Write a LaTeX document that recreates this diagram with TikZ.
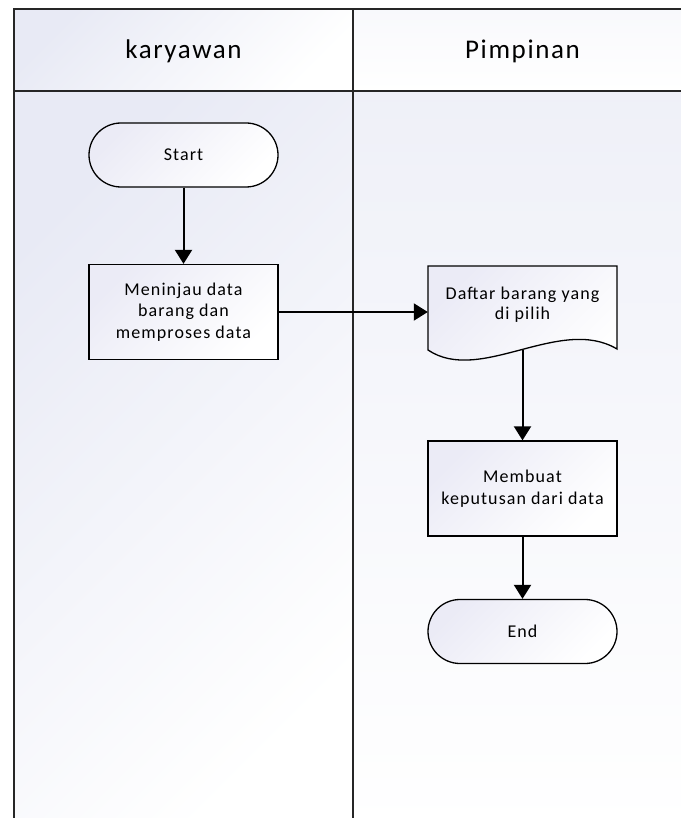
\documentclass[tikz,border=0pt]{standalone}
\usepackage{fontspec}
\setmainfont{Carlito}[LetterSpace=6]
\usepackage{xcolor}
\usetikzlibrary{positioning,arrows.meta}

\definecolor{lanetint}{HTML}{E8EAF5}
\definecolor{boxtint}{HTML}{EBEBF6}

\tikzset{
  lane/.style={top color=lanetint, bottom color=white, shading angle=45},
  lanelabel/.style={font=\fontsize{27}{30}\selectfont},
  proc/.style={draw, line width=1.3pt, minimum width=189pt, minimum height=95pt, align=center,
    font=\fontsize{18}{21.5}\selectfont, top color=boxtint, bottom color=white, shading angle=45},
  term/.style={proc, minimum height=64pt, rounded corners=32pt},
  doctext/.style={align=center, font=\fontsize{18}{20.5}\selectfont, minimum width=189pt,
    minimum height=84pt, text depth=10pt},
  flow/.style={line width=2pt, -{Triangle[length=14pt,width=17pt]}}
}

\begin{document}
\begin{tikzpicture}[x=1pt,y=-1pt]
  \useasboundingbox (0,0) rectangle (680,818);
  % lanes
  \shade[lane] (14,9) rectangle (353,91);
  \shade[lane] (14,91) rectangle (353,830);
  \shade[lane, top color=lanetint!30] (353,9) rectangle (691,91);
  \shade[lane, top color=lanetint!70] (353,91) rectangle (691,830);
  \draw[line width=1.8pt, draw=black!85] (14,9) rectangle (691,830);
  \draw[line width=1.8pt, draw=black!85] (353,9) -- (353,830);
  \draw[line width=1.8pt, draw=black!85] (14,91) -- (691,91);
  \node[lanelabel] (karyawan) at (183.5,51) {karyawan};
  \node[lanelabel] (pimpinan) at (522.5,51) {Pimpinan};

  \node[term] (start) at (183.5,155) {Start};
  \node[proc] (tinjau) at (183.5,312) {Meninjau data\\barang dan\\memproses data};
  \shadedraw[line width=1.3pt, top color=boxtint, bottom color=white, shading angle=45]
    (428,266) -- (617,266) -- (617,349) .. controls (560,315) and (480,385) .. (428,350) -- cycle;
  \node[doctext] (daftar) at (522.5,308) {Daftar barang yang\\di pilih};
  \node[proc] (putus) at (522.5,488.5) {Membuat\\keputusan dari data};
  \node[term] (end) at (522.5,631.5) {End};

  \draw[flow] (start) -- (tinjau);
  \draw[flow] (tinjau.east) -- (tinjau.east -| daftar.west);
  \draw[flow] (daftar.south) -- (putus);
  \draw[flow] (putus) -- (end);
\end{tikzpicture}
\end{document}
